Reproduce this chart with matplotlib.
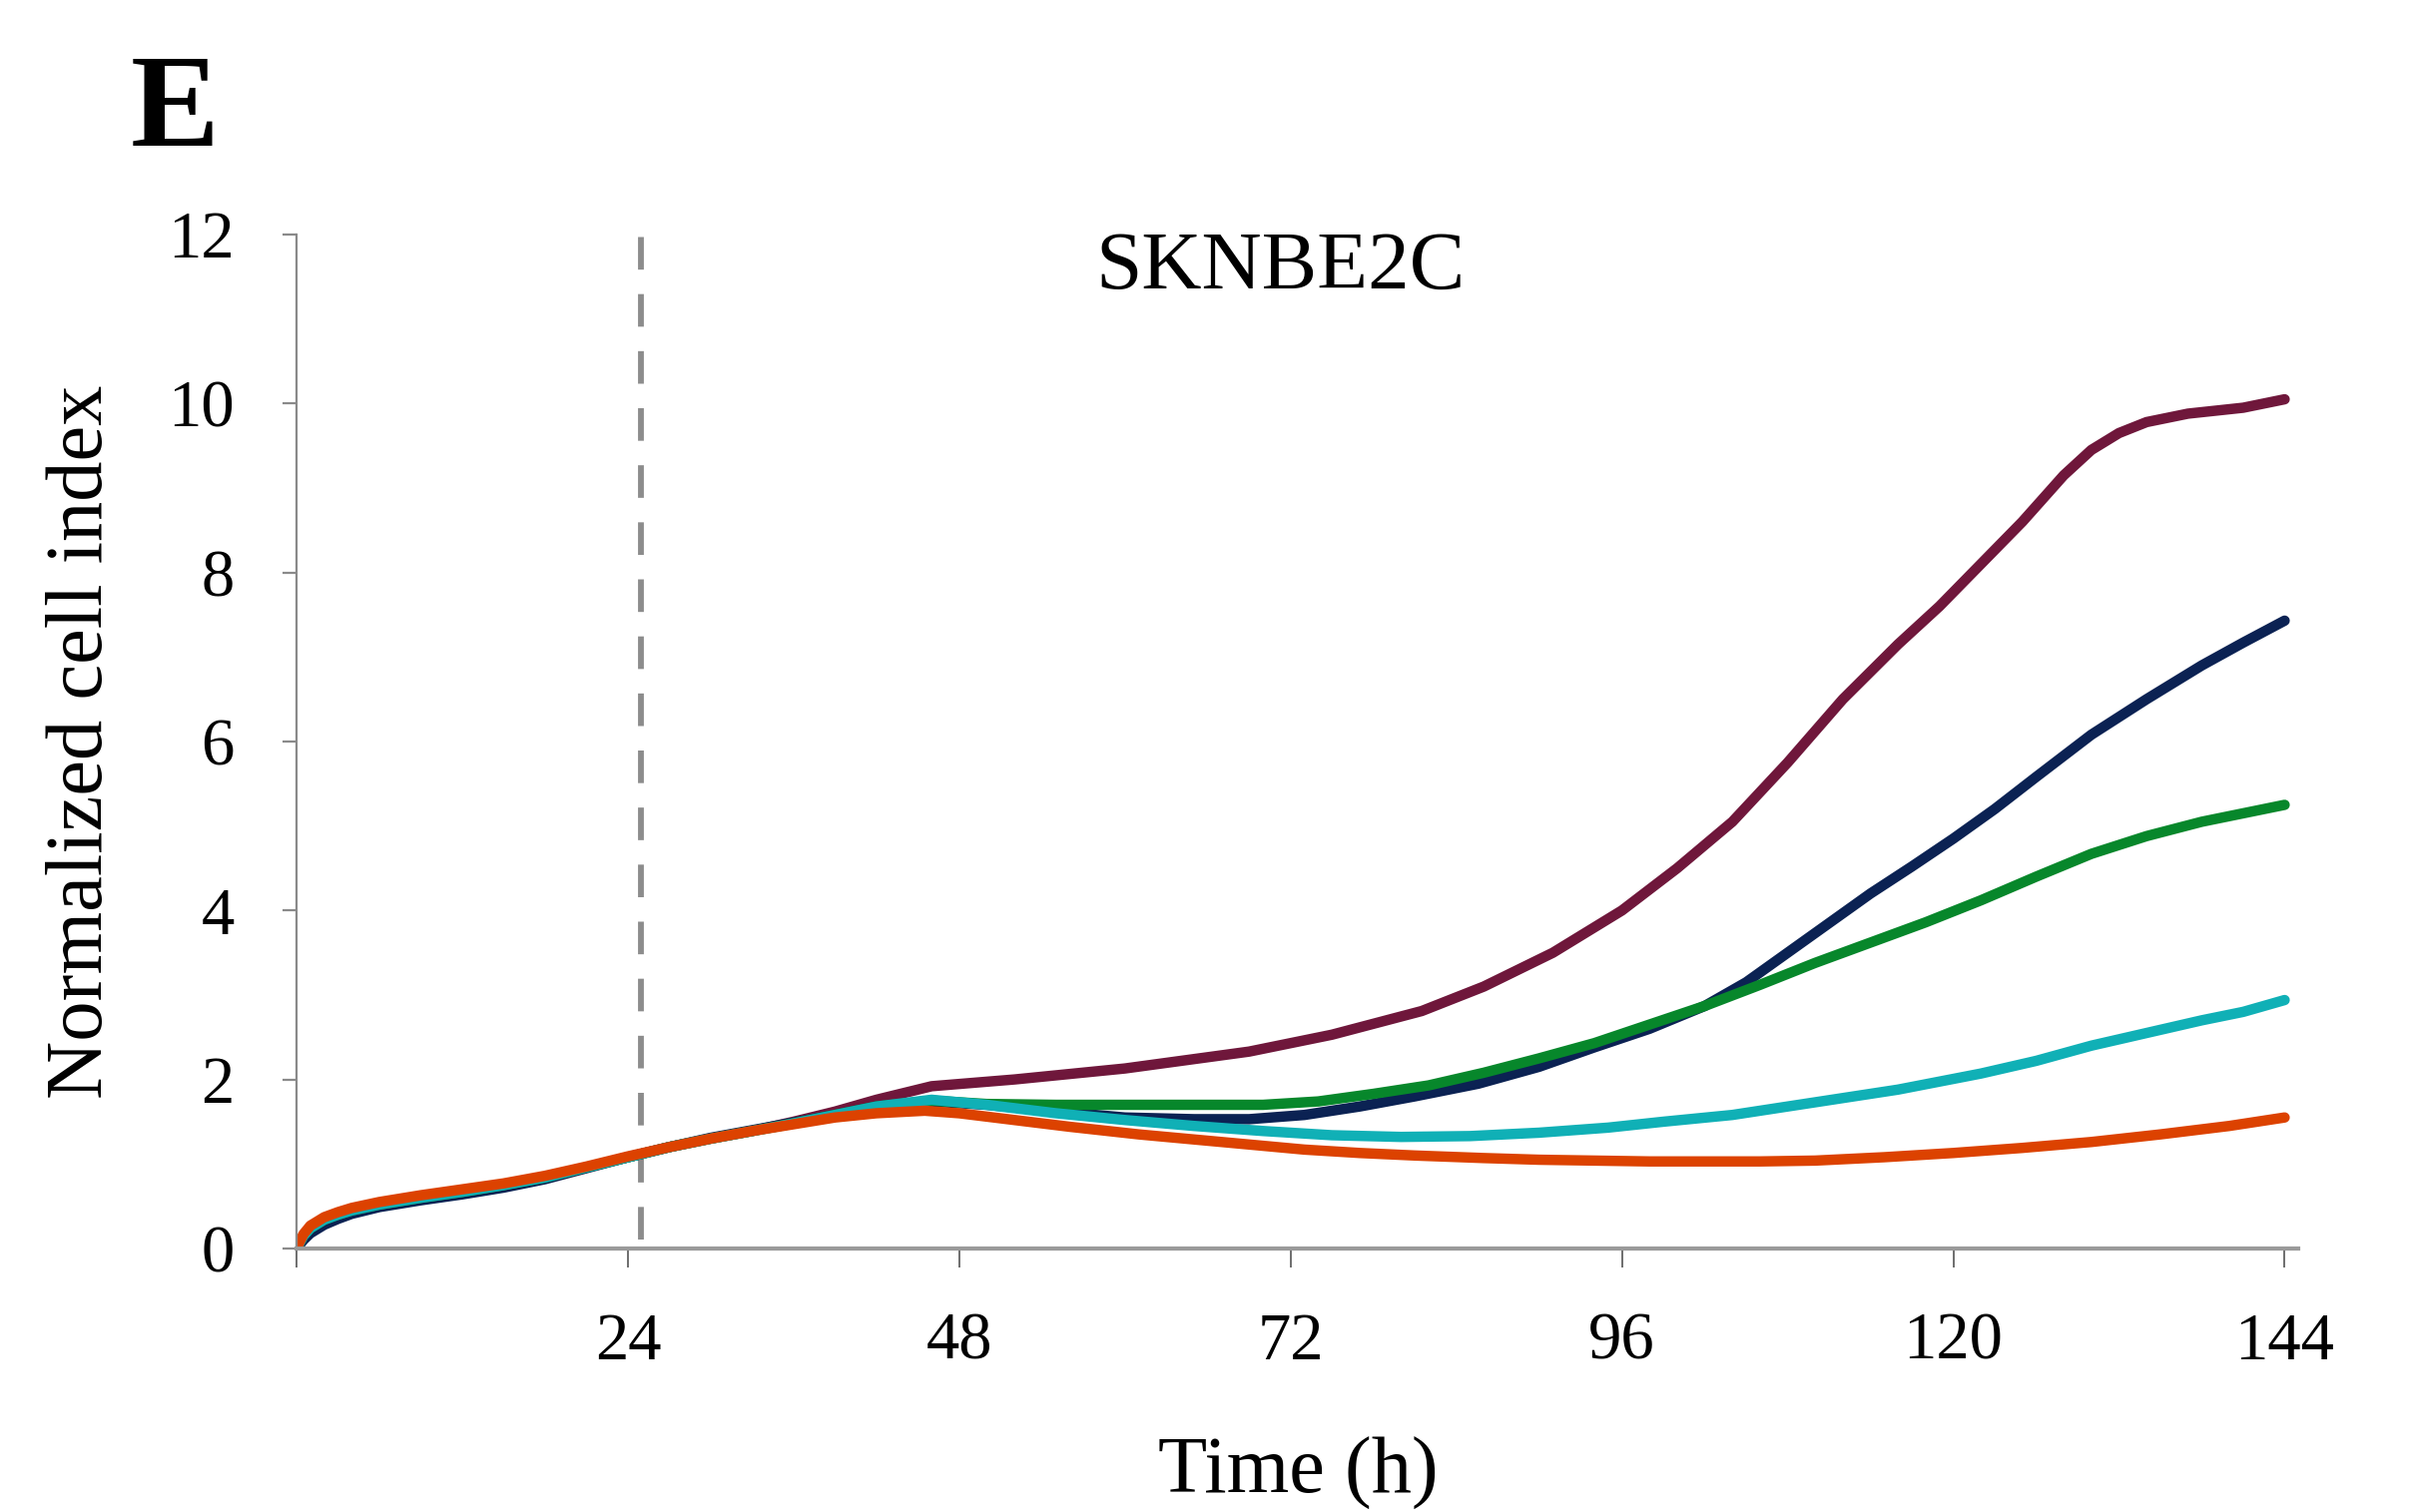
import matplotlib
matplotlib.use("Agg")
import matplotlib.pyplot as plt

# curvas de índice celular normalizado, línea SKNBE2C
t_maroon = [0, 0.5, 1, 2, 3, 4, 6, 9, 12, 15, 18, 21, 24, 27, 30, 33, 36, 39, 42, 46,
            52, 60, 69, 75, 81.5, 86, 91, 96, 100, 104, 108, 112, 116, 119, 122, 125,
            128, 130, 132, 134, 137, 141, 144]
y_maroon = [0, 0.15, 0.24, 0.34, 0.4, 0.45, 0.52, 0.6, 0.67, 0.75, 0.84, 0.96, 1.08, 1.2,
            1.3, 1.39, 1.5, 1.62, 1.76, 1.92, 2.0, 2.13, 2.33, 2.53, 2.81, 3.1, 3.5, 4.0,
            4.5, 5.05, 5.75, 6.5, 7.15, 7.6, 8.1, 8.6, 9.15, 9.45, 9.65, 9.78, 9.88, 9.95,
            10.05]

t_navy = [0, 0.5, 1, 2, 3, 4, 6, 9, 12, 15, 18, 21, 24, 27, 30, 33, 36, 39, 42, 46, 50,
          55, 60, 65, 69, 73, 77, 81, 85.6, 90, 94, 98, 102, 105, 108, 111, 114, 117,
          120, 123, 126, 130, 134, 138, 141, 144]
y_navy = [0, 0.1, 0.18, 0.28, 0.35, 0.41, 0.49, 0.57, 0.64, 0.72, 0.82, 0.95, 1.08, 1.2,
          1.31, 1.4, 1.49, 1.58, 1.68, 1.74, 1.7, 1.62, 1.55, 1.53, 1.53, 1.58, 1.68,
          1.8, 1.95, 2.15, 2.38, 2.6, 2.87, 3.15, 3.5, 3.85, 4.2, 4.52, 4.85, 5.2, 5.58,
          6.08, 6.5, 6.9, 7.17, 7.43]

t_green = [0, 0.5, 1, 2, 3, 4, 6, 9, 12, 15, 18, 21, 24, 27, 30, 33, 36, 39, 42, 46, 50,
           55, 60, 65, 70, 74, 78, 82, 86, 90, 94, 98, 102, 106, 110, 114, 118, 122, 126,
           130, 134, 138, 141, 144]
y_green = [0, 0.15, 0.24, 0.34, 0.4, 0.45, 0.52, 0.6, 0.67, 0.75, 0.84, 0.96, 1.08, 1.2,
           1.3, 1.39, 1.48, 1.58, 1.68, 1.75, 1.71, 1.7, 1.7, 1.7, 1.7, 1.74, 1.83, 1.93,
           2.08, 2.25, 2.43, 2.65, 2.87, 3.12, 3.38, 3.62, 3.86, 4.12, 4.4, 4.67, 4.88,
           5.05, 5.15, 5.25]

t_cyan = [0, 0.5, 1, 2, 3, 4, 6, 9, 12, 15, 18, 21, 24, 27, 30, 33, 36, 39, 42, 46, 50,
          55, 60, 65, 70, 75, 80, 85, 90, 95, 99, 104, 110, 116, 122, 126, 130, 134, 138,
          141, 144]
y_cyan = [0, 0.15, 0.24, 0.34, 0.4, 0.45, 0.52, 0.6, 0.67, 0.75, 0.84, 0.96, 1.08, 1.2,
          1.3, 1.39, 1.48, 1.58, 1.68, 1.76, 1.7, 1.6, 1.52, 1.45, 1.39, 1.34, 1.32, 1.33,
          1.37, 1.43, 1.5, 1.58, 1.73, 1.88, 2.07, 2.22, 2.4, 2.55, 2.7, 2.8, 2.94]

t_orange = [0, 0.5, 1, 2, 3, 4, 6, 9, 12, 15, 18, 21, 24, 27, 30, 33, 36, 39, 42, 45.5, 48,
            52, 56, 61, 65, 69, 73, 77, 81, 86, 90, 94, 98, 102, 106, 110, 115, 120, 125,
            130, 135, 140, 144]
y_orange = [0, 0.17, 0.27, 0.37, 0.43, 0.48, 0.55, 0.63, 0.7, 0.77, 0.86, 0.97, 1.09, 1.2,
            1.3, 1.39, 1.47, 1.55, 1.6, 1.63, 1.6, 1.52, 1.44, 1.35, 1.29, 1.23, 1.17, 1.13,
            1.1, 1.07, 1.05, 1.04, 1.03, 1.03, 1.03, 1.04, 1.08, 1.13, 1.19, 1.26, 1.35,
            1.45, 1.55]

series = [
    (t_maroon, y_maroon, "#6f173b"),
    (t_navy, y_navy, "#0b2253"),
    (t_green, y_green, "#07872b"),
    (t_cyan, y_cyan, "#10b0b6"),
    (t_orange, y_orange, "#dc4200"),
]

x_ticks = [0, 24, 48, 72, 96, 120, 144]
x_ticklabels = ["", "24", "48", "72", "96", "120", "144"]
y_ticks = [0, 2, 4, 6, 8, 10, 12]
t_tratamiento = 24.95

plt.rcParams["font.family"] = ["Liberation Serif", "DejaVu Serif"]

fig = plt.figure(figsize=(24.13, 15.15), dpi=100)
ax = fig.add_axes([0.1231, 0.1743, 0.831, 0.6706])

for t, y, c in series:
    ax.plot(t, y, color=c, lw=7.5, solid_capstyle="round", solid_joinstyle="round")

# línea del momento del tratamiento
ax.plot([t_tratamiento, t_tratamiento], [0.1, 12.18], color="#8c8c8c", lw=4.2,
        linestyle=(0, (5.6, 4.2)), clip_on=False, zorder=1)

ax.set_xlim(0, 145)
ax.set_ylim(0, 12)
ax.set_xticks(x_ticks)
ax.set_xticklabels(x_ticklabels)
ax.set_yticks(y_ticks)

for s in ["top", "right"]:
    ax.spines[s].set_visible(False)
ax.spines["left"].set_color("#8a8a8a")
ax.spines["left"].set_linewidth(1.6)
ax.spines["bottom"].set_color("#9a9a9a")
ax.spines["bottom"].set_linewidth(3.0)

ax.tick_params(axis="y", direction="out", length=10, width=1.6, color="#8a8a8a",
               pad=35, labelsize=48)
ax.tick_params(axis="x", direction="out", length=14, width=1.2, color="#555555",
               pad=32, labelsize=48)

ax.text(71.3, 11.36, "SKNBE2C", ha="center", va="baseline", fontsize=60)

fig.text(0.034, 0.5096, "Normalized cell index", rotation=90, ha="center",
         va="center", fontsize=58)
fig.text(0.5388, 0.0125, "Time (h)", ha="center", va="baseline", fontsize=58)
fig.text(0.054, 0.9036, "E", ha="left", va="baseline", fontsize=96, fontweight="bold")

fig.savefig("out.png", dpi=100, facecolor="white")
